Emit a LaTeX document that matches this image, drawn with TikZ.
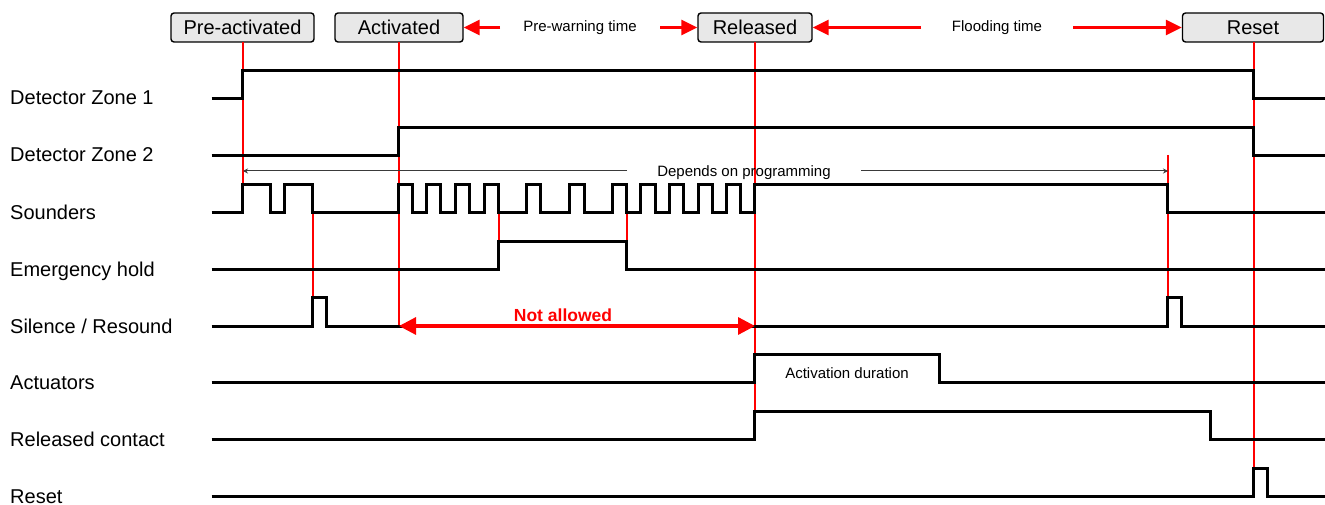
\documentclass[tikz,border=0pt]{standalone}
\usepackage{fontspec}
\setmainfont{Liberation Sans}
\usetikzlibrary{arrows.meta}
\definecolor{boxfill}{HTML}{E8E8E8}
\definecolor{darkline}{HTML}{3A3A3A}
\tikzset{
  sig/.style={line width=3pt, black, line join=miter, shift={(-0.5,0.5)}},
  guide/.style={red, line width=1.1pt},
  hdrbox/.style={draw=black, line width=1.4pt, fill=boxfill, rounded corners=3pt,
    inner sep=0pt, text height=14pt, text depth=0pt, font=\fontsize{20}{24}\selectfont},
  rowlabel/.style={anchor=base west, inner sep=0pt, font=\fontsize{20}{24}\selectfont},
  smalltext/.style={anchor=base, inner sep=0pt, font=\fontsize{15}{18}\selectfont},
  redarrow/.style={red, line width=2.8pt, -{Triangle[length=16pt,width=15pt]}},
  redboth/.style={red, line width=3.2pt, {Triangle[length=17pt,width=17pt]}-{Triangle[length=17pt,width=17pt]}},
  grayarrow/.style={darkline, line width=1pt, -{Stealth[length=5pt,width=5pt]}},
}
\begin{document}
\begin{tikzpicture}[x=1pt,y=-1pt]
\useasboundingbox (0,0) rectangle (1325,505);

% header boxes
\node[hdrbox, minimum width=143pt, minimum height=29pt] (pre) at (242.5,27.5) {Pre-activated};
\node[hdrbox, minimum width=128pt, minimum height=29pt] (act) at (399,27.5) {Activated};
\node[hdrbox, minimum width=114pt, minimum height=29pt] (rel) at (755,27.5) {Released};
\node[hdrbox, minimum width=141pt, minimum height=29pt] (rst) at (1253,27.5) {Reset};

% header time labels and arrows
\node[smalltext] (pw) at (580,32) {Pre-warning time};
\node[smalltext] (fl) at (997,32) {Flooding time};
\coordinate (pwL) at (500,27.5);
\coordinate (pwR) at (660,27.5);
\coordinate (flL) at (921,27.5);
\coordinate (flR) at (1073,27.5);
\draw[redarrow] (pwL) -- (act.east);
\draw[redarrow] (pwR) -- (rel.west);
\draw[redarrow] (flL) -- (rel.east);
\draw[redarrow] (flR) -- (rst.west);

% red guide lines
\coordinate (g1a) at (243,42);   \coordinate (g1b) at (243,212);
\coordinate (g2a) at (313,212);  \coordinate (g2b) at (313,326);
\coordinate (g3a) at (399,42);   \coordinate (g3b) at (399,326);
\coordinate (g4a) at (499,212);  \coordinate (g4b) at (499,269);
\coordinate (g5a) at (627,212);  \coordinate (g5b) at (627,269);
\coordinate (g6a) at (755,42);   \coordinate (g6b) at (755,439);
\coordinate (g7a) at (1168,155); \coordinate (g7b) at (1168,326);
\coordinate (g8a) at (1254,42);  \coordinate (g8b) at (1254,496);
\draw[guide] (g1a) -- (g1b);
\draw[guide] (g2a) -- (g2b);
\draw[guide] (g3a) -- (g3b);
\draw[guide] (g4a) -- (g4b);
\draw[guide] (g5a) -- (g5b);
\draw[guide] (g6a) -- (g6b);
\draw[guide] (g7a) -- (g7b);
\draw[guide] (g8a) -- (g8b);

% row labels
\node[rowlabel] (l1) at (10,105) {Detector Zone 1};
\node[rowlabel] (l2) at (10,162) {Detector Zone 2};
\node[rowlabel] (l3) at (10,219) {Sounders};
\node[rowlabel] (l4) at (10,276) {Emergency hold};
\node[rowlabel] (l5) at (10,333) {Silence / Resound};
\node[rowlabel] (l6) at (10,389) {Actuators};
\node[rowlabel] (l7) at (10,446) {Released contact};
\node[rowlabel] (l8) at (10,503) {Reset};

% signals
\draw[sig] (212,98) -- (243,98) -- (243,70) -- (1254,70) -- (1254,98) -- (1325,98);
\draw[sig] (212,155) -- (399,155) -- (399,127) -- (1254,127) -- (1254,155) -- (1325,155);
\draw[sig] (212,212) -- (243,212) -- (243,184) -- (271,184) -- (271,212) -- (285,212) -- (285,184) -- (313,184) -- (313,212)
  -- (399,212) -- (399,184) -- (413,184) -- (413,212) -- (427,212) -- (427,184) -- (441,184) -- (441,212)
  -- (456,212) -- (456,184) -- (470,184) -- (470,212) -- (485,212) -- (485,184) -- (499,184) -- (499,212)
  -- (527,212) -- (527,184) -- (541,184) -- (541,212) -- (570,212) -- (570,184) -- (585,184) -- (585,212)
  -- (613,212) -- (613,184) -- (627,184) -- (627,212) -- (641,212) -- (641,184) -- (656,184) -- (656,212)
  -- (670,212) -- (670,184) -- (684,184) -- (684,212) -- (699,212) -- (699,184) -- (713,184) -- (713,212)
  -- (727,212) -- (727,184) -- (741,184) -- (741,212) -- (755,212) -- (755,184) -- (1168,184) -- (1168,212) -- (1325,212);
\draw[sig] (212,269) -- (499,269) -- (499,241) -- (627,241) -- (627,269) -- (1325,269);
\draw[sig] (212,326) -- (313,326) -- (313,297) -- (327,297) -- (327,326) -- (1168,326) -- (1168,297) -- (1182,297) -- (1182,326) -- (1325,326);
\draw[sig] (212,382) -- (755,382) -- (755,354) -- (940,354) -- (940,382) -- (1325,382);
\draw[sig] (212,439) -- (755,439) -- (755,411) -- (1211,411) -- (1211,439) -- (1325,439);
\draw[sig] (212,496) -- (1254,496) -- (1254,468) -- (1268,468) -- (1268,496) -- (1325,496);

% depends on programming
\node[smalltext] (dep) at (744,177) {Depends on programming};
\coordinate (depL0) at (627,171); \coordinate (depL1) at (243,171);
\coordinate (depR0) at (861,171); \coordinate (depR1) at (1168,171);
\draw[grayarrow] (depL0) -- (depL1);
\draw[grayarrow] (depR0) -- (depR1);

% not allowed
\node[anchor=base, inner sep=0pt, text=red, font=\fontsize{17.5}{21}\selectfont\bfseries] (na) at (563,321) {Not allowed};
\coordinate (naL) at (399,326); \coordinate (naR) at (755,326);
\draw[redboth] (naL) -- (naR);

% activation duration
\node[smalltext] (ad) at (847,378) {Activation duration};
\end{tikzpicture}
\end{document}
